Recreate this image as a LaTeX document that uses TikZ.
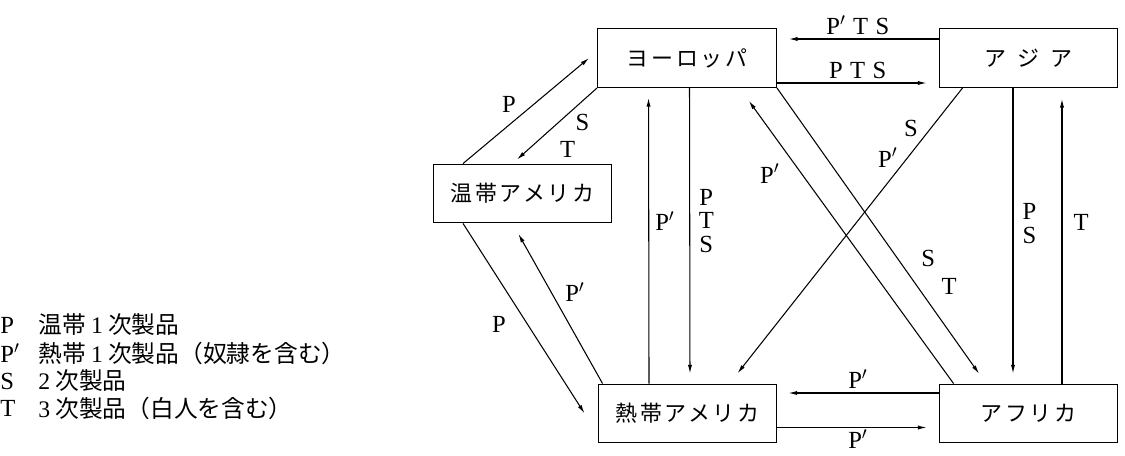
\documentclass[tikz,border=0pt]{standalone}
\usepackage{fontspec}
\setmainfont{Liberation Serif}
\newfontfamily\jfont{Noto Sans CJK JP}
\newfontfamily\jboxfont[LetterSpace=12]{Noto Sans CJK JP}
\usetikzlibrary{positioning, arrows.meta}

\begin{document}
\begin{tikzpicture}[
    x=0.02cm, y=-0.02cm,
    font=\fontsize{14}{13.6}\selectfont,
    region/.style={draw, line width=0.8pt, minimum width=3.57cm, minimum height=1.17cm, inner sep=0pt, font=\fontsize{12.5}{14}\selectfont\jboxfont},
    flow/.style={-{Latex[length=5pt, width=2.4pt]}, line width=0.6pt},
    lbl/.style={inner sep=2pt},
    key/.style={anchor=west, inner sep=0pt}
  ]
    \useasboundingbox (0,0) rectangle (1125,456);

    % Regions
    \node[region] (eur)  at (687,58)      {ヨーロッパ};
    \node[region] (asia) at (1028.5,58)   {ア\hspace{0.5em}ジ\hspace{0.5em}ア};
    \node[region] (tam)  at (522.5,193.5) {温帯アメリカ};
    \node[region] (tram) at (687.5,413.5) {熱帯アメリカ};
    \node[region] (afr)  at (1028.5,413.5) {アフリカ};

    % Europe -- Asia
    \draw[flow, shorten >=0.24cm] ([yshift=0.38cm]asia.west) -- node[lbl, above] {P$'$\hspace{0.3em}T\hspace{0.3em}S} ([yshift=0.38cm]eur.east);
    \draw[flow, shorten >=0.24cm] ([yshift=-0.5cm]eur.east) -- node[lbl, above] {P\hspace{0.3em}T\hspace{0.3em}S} ([yshift=-0.5cm]asia.west);

    % Europe -- temperate America
    \draw[flow] ([xshift=-1.19cm]tam.north) -- node[pos=.45, lbl, above left] {P} ([xshift=-0.16cm]eur.west);
    \draw[flow, shorten >=0.12cm] (eur.south west) -- node[pos=.3, lbl, below right] {S} node[pos=.65, lbl, below right, xshift=0.28cm] {T} ([xshift=-0.2cm]tam.north);

    % Temperate -- tropical America
    \draw[flow] ([xshift=-1.19cm]tam.south) -- node[pos=.53, lbl, left=0.35cm] {P} ([xshift=-0.26cm]tram.west);
    \draw[flow, shorten >=0.24cm] ([xshift=0.1cm]tram.north west) -- node[pos=.57, lbl, right=0.2cm] {P$'$} ([xshift=-0.2cm]tam.south);

    % Europe -- tropical America
    \draw[flow, shorten >=0.2cm] ([xshift=-0.77cm]tram.north) -- node[pos=.55, lbl, right=0.05cm] {P$'$} ([xshift=-0.77cm]eur.south);
    \draw[flow, shorten >=0.2cm] ([xshift=0.05cm]eur.south) -- node[pos=.45, lbl, right=0.1cm, align=center] {P\\T\\S} ([xshift=0.05cm]tram.north);

    % Europe -- Africa
    \draw[flow, shorten >=0.32cm] ([xshift=0.3cm]afr.north west) -- node[pos=.71, lbl, left=0.36cm] {P$'$} ([xshift=-0.75cm]eur.south east);
    \draw[flow, shorten >=0.24cm] (eur.south east) -- node[pos=.576, lbl, right=0.4cm] {S} node[pos=.673, lbl, right=0.4cm] {T} ([xshift=-0.85cm]afr.north);

    % Asia -- tropical America, Africa
    \draw[flow, shorten >=0.26cm] ([xshift=0.48cm]asia.south west) -- node[pos=.138, lbl, left=0.17cm] {S} node[pos=.236, lbl, left=0.12cm] {P$'$} ([xshift=-0.96cm]tram.north east);
    \draw[flow, shorten >=0.2cm] ([xshift=-0.31cm]asia.south) -- node[pos=.46, lbl, right=0.11cm, align=center] {P\\S} ([xshift=-0.31cm]afr.north);
    \draw[flow, shorten >=0.22cm] ([xshift=0.67cm]afr.north) -- node[pos=.545, lbl, right=0.15cm] {T} ([xshift=0.67cm]asia.south);

    % Africa -- tropical America
    \draw[flow, shorten >=0.22cm] ([yshift=0.41cm]afr.west) -- node[lbl, above] {P$'$} ([yshift=0.41cm]tram.east);
    \draw[flow, shorten >=0.24cm] ([yshift=-0.28cm]tram.east) -- node[lbl, below, inner sep=1pt] {P$'$} ([yshift=-0.28cm]afr.west);

    % Key
    \node[key] (kP)  at (0,325) {P};
    \node[key] (kPp) at (0,353) {P$'$};
    \node[key] (kS)  at (0,381) {S};
    \node[key] (kT)  at (0,408) {T};
    \node[key, font=\fontsize{13.5}{14}\selectfont\jfont] (dP)  at (38,325) {温帯 {\rmfamily 1} 次製品};
    \node[key, font=\fontsize{13.5}{14}\selectfont\jfont] (dPp) at (38,353) {熱帯 {\rmfamily 1} 次製品（奴隷を含む）};
    \node[key, font=\fontsize{13.5}{14}\selectfont\jfont] (dS)  at (38,381) {{\rmfamily 2} 次製品};
    \node[key, font=\fontsize{13.5}{14}\selectfont\jfont] (dT)  at (38,408) {{\rmfamily 3} 次製品（白人を含む）};
  \end{tikzpicture}
\end{document}
